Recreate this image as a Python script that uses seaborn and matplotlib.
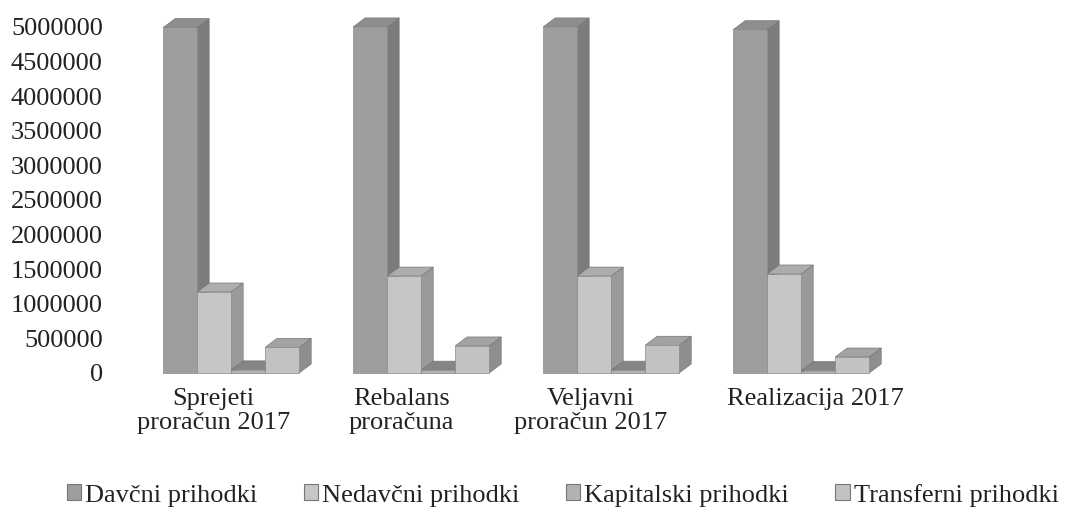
import matplotlib
matplotlib.use("Agg")
import matplotlib.pyplot as plt
from matplotlib.patches import Polygon, Patch
from matplotlib.transforms import ScaledTranslation
import pandas as pd
import seaborn as sns

categories = ["Sprejeti\nproračun 2017", "Rebalans\nproračuna",
              "Veljavni\nproračun 2017", "Realizacija 2017"]
series = ["Davčni prihodki", "Nedavčni prihodki", "Kapitalski prihodki", "Transferni prihodki"]
davcni = [4990000, 5000000, 5000000, 4960000]
nedavcni = [1170000, 1400000, 1400000, 1430000]
kapitalski = [45000, 40000, 40000, 35000]
transferni = [370000, 390000, 400000, 230000]
yticks = list(range(0, 5000001, 500000))

front = ["#9e9e9e", "#c6c6c6", "#b2b2b2", "#c2c2c2"]
side = ["#7c7c7c", "#9a9a9a", "#8a8a8a", "#8e8e8e"]
top = ["#8e8e8e", "#adadad", "#858585", "#a3a3a3"]

rows = []
for vals, name in zip([davcni, nedavcni, kapitalski, transferni], series):
    for cat, v in zip(categories, vals):
        rows.append({"kategorija": cat, "vrsta": name, "znesek": v})
df = pd.DataFrame(rows)

sns.set_style("white")
plt.rcParams["font.family"] = ["Liberation Serif", "DejaVu Serif"]
fs = 19

fig = plt.figure(figsize=(10.72, 5.13), dpi=100)
ax = fig.add_axes([0.127, 0.273, 0.709, 0.6745])
sns.barplot(data=df, x="kategorija", y="znesek", hue="vrsta", order=categories,
            hue_order=series, palette=front, width=0.716, dodge=True,
            saturation=1, legend=False, ax=ax, edgecolor="#8a8a8a", linewidth=0.5)
ax.set_xlim(-0.5, 3.5)
ax.set_ylim(0, 5000000)

# pseudo 3D: side and top faces offset back and to the right
dx = 12 / 190.0
dy = 9 * 5000000 / 346.0
bars = sorted(ax.patches, key=lambda p: p.get_x())
for i, p in enumerate(bars):
    k = [j for j, c in enumerate(front) if matplotlib.colors.to_hex(p.get_facecolor()) == c][0]
    x0, w, h = p.get_x(), p.get_width(), p.get_height()
    z = 2 + i * 3
    s = Polygon([(x0 + w, 0), (x0 + w + dx, dy), (x0 + w + dx, h + dy), (x0 + w, h)],
                closed=True, facecolor=side[k], edgecolor="#777777", lw=0.5, zorder=z, clip_on=False)
    t = Polygon([(x0, h), (x0 + dx, h + dy), (x0 + w + dx, h + dy), (x0 + w, h)],
                closed=True, facecolor=top[k], edgecolor="#777777", lw=0.5, zorder=z + 1, clip_on=False)
    ax.add_patch(s)
    ax.add_patch(t)
    p.set_zorder(z + 2)
    p.set_clip_on(False)

ax.set_yticks(yticks)
ax.set_yticklabels([str(v) for v in yticks])
ax.tick_params(axis="y", length=0, pad=24, labelsize=fs, labelcolor="#222222")
ax.tick_params(axis="x", length=0, pad=11, labelsize=fs, labelcolor="#222222")
shifts = [-18, -20, -21, 14]
for lab, sh in zip(ax.get_xticklabels(), shifts):
    lab.set_linespacing(1.12)
    lab.set_transform(lab.get_transform() + ScaledTranslation(sh / 100, 0, fig.dpi_scale_trans))
ax.set_xlabel("")
ax.set_ylabel("")
sns.despine(ax=ax, left=True, bottom=True)

handles = [Patch(facecolor=c, edgecolor="#777777", linewidth=0.8) for c in front]
fig.legend(handles, series, loc="center", bbox_to_anchor=(0.525, 0.035), ncol=4,
           frameon=False, fontsize=fs, handlelength=0.55, handleheight=0.55,
           handletextpad=0.15, columnspacing=1.75, labelcolor="#222222")

plt.savefig("out.png", dpi=100)
plt.close()
